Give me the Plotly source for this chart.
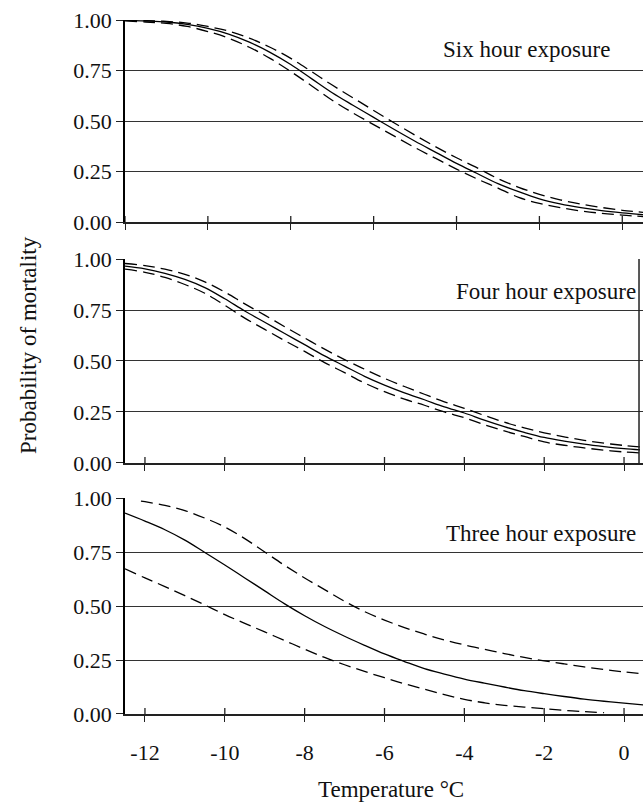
import plotly.graph_objects as go

# ---------------- data ----------------
temp_six = [-12, -11.5, -11, -10.5, -10, -9.5, -9, -8.5, -8, -7.5, -7, -6.5, -6,
            -5.5, -5, -4.5, -4, -3.5, -3, -2.5, -2, -1.5, -1, -0.5, 0, 0.5]
six_fit = [0.998, 0.995, 0.99, 0.978, 0.958, 0.93, 0.89, 0.84, 0.78, 0.71, 0.64, 0.578, 0.518,
           0.458, 0.40, 0.345, 0.29, 0.24, 0.19, 0.15, 0.115, 0.09, 0.071, 0.056, 0.045, 0.036]
six_upper = [0.999, 0.997, 0.993, 0.985, 0.968, 0.945, 0.91, 0.865, 0.81, 0.745, 0.678, 0.615, 0.552,
             0.49, 0.43, 0.372, 0.318, 0.268, 0.215, 0.172, 0.137, 0.11, 0.089, 0.072, 0.058, 0.048]
six_lower = [0.996, 0.99, 0.983, 0.968, 0.943, 0.91, 0.865, 0.81, 0.745, 0.675, 0.603, 0.54, 0.482,
             0.425, 0.368, 0.315, 0.262, 0.213, 0.168, 0.122, 0.092, 0.071, 0.055, 0.043, 0.034, 0.027]

temp_four = [-12.5, -12, -11.5, -11, -10.5, -10, -9.5, -9, -8.5, -8, -7.5, -7, -6.5, -6,
             -5.5, -5, -4.5, -4, -3.5, -3, -2.5, -2, -1.5, -1, -0.5, 0, 0.4]
four_fit = [0.965, 0.952, 0.93, 0.9, 0.86, 0.805, 0.745, 0.69, 0.635, 0.58, 0.525, 0.475, 0.425, 0.382,
            0.344, 0.31, 0.275, 0.245, 0.21, 0.178, 0.15, 0.125, 0.107, 0.092, 0.08, 0.07, 0.064]
four_upper = [0.978, 0.968, 0.95, 0.925, 0.888, 0.838, 0.78, 0.725, 0.668, 0.613, 0.558, 0.507, 0.46, 0.415,
              0.375, 0.337, 0.3, 0.268, 0.233, 0.2, 0.172, 0.148, 0.128, 0.111, 0.097, 0.086, 0.079]
four_lower = [0.95, 0.935, 0.91, 0.875, 0.832, 0.773, 0.71, 0.655, 0.6, 0.547, 0.492, 0.443, 0.392, 0.35,
              0.313, 0.283, 0.25, 0.222, 0.188, 0.157, 0.13, 0.103, 0.087, 0.074, 0.063, 0.054, 0.049]

temp_three = [-12.5, -12, -11.5, -11, -10.5, -10, -9.5, -9, -8.5, -8, -7.5, -7, -6.5, -6,
              -5.5, -5, -4.5, -4, -3.5, -3, -2.5, -2, -1.5, -1, -0.5, 0, 0.5]
three_fit = [0.93, 0.893, 0.853, 0.805, 0.748, 0.69, 0.63, 0.57, 0.51, 0.455, 0.405, 0.36, 0.318, 0.278,
             0.243, 0.21, 0.185, 0.162, 0.143, 0.125, 0.108, 0.094, 0.081, 0.069, 0.059, 0.05, 0.042]
temp_three_upper = [-12.1, -12, -11.5, -11, -10.5, -10, -9.5, -9, -8.5, -8, -7.5, -7, -6.5, -6,
                    -5.5, -5, -4.5, -4, -3.5, -3, -2.5, -2, -1.5, -1, -0.5, 0, 0.5]
three_upper = [0.986, 0.983, 0.966, 0.942, 0.907, 0.866, 0.812, 0.75, 0.688, 0.63, 0.576, 0.522, 0.474, 0.435,
               0.4, 0.37, 0.343, 0.32, 0.3, 0.28, 0.262, 0.246, 0.232, 0.218, 0.206, 0.195, 0.185]
temp_three_lower = [-12.5, -12, -11.5, -11, -10.5, -10, -9.5, -9, -8.5, -8, -7.5, -7, -6.5, -6,
                    -5.5, -5, -4.5, -4, -3.5, -3, -2.5, -2, -1.5, -1, -0.5]
three_lower = [0.672, 0.63, 0.59, 0.548, 0.505, 0.46, 0.42, 0.38, 0.34, 0.3, 0.262, 0.228, 0.197, 0.168,
               0.14, 0.115, 0.09, 0.068, 0.052, 0.04, 0.032, 0.025, 0.017, 0.011, 0.006]

x_ticks = [-12, -10, -8, -6, -4, -2, 0]
x_tick_text = ["-12", "-10", "-8", "-6", "-4", "-2", "0"]
y_ticks = [0, 0.25, 0.5, 0.75, 1.0]
y_tick_text = ["0.00", "0.25", "0.50", "0.75", "1.00"]
panel_labels = ["Six hour exposure", "Four hour exposure", "Three hour exposure"]
x_title = "Temperature °C"
y_title = "Probability of mortality"

# ---------------- figure ----------------
FONT = "Liberation Serif, Times New Roman, serif"
DASH = "12px,6px"
LW = 1.3

fig = go.Figure()

panels = [
    ("x", "y", temp_six, six_fit, temp_six, six_upper, temp_six, six_lower),
    ("x2", "y2", temp_four, four_fit, temp_four, four_upper, temp_four, four_lower),
    ("x3", "y3", temp_three, three_fit, temp_three_upper, three_upper, temp_three_lower, three_lower),
]
for xa, ya, tf, vf, tu, vu, tl, vl in panels:
    for tt, vv, dash in [(tu, vu, DASH), (tl, vl, DASH), (tf, vf, "solid")]:
        fig.add_trace(go.Scatter(x=tt, y=vv, xaxis=xa, yaxis=ya, mode="lines",
                                 line=dict(color="black", width=LW, dash=dash, shape="spline"),
                                 showlegend=False, hoverinfo="skip"))

domains = [[0.7089, 1.0], [0.3617, 0.6556], [0.0, 0.3112]]
xranges = [[-12, 0.5], [-12.5, 0.475], [-12.5, 0.475]]

common_x = dict(showgrid=False, zeroline=False, showline=True, linecolor="#222", linewidth=1.5,
                tickvals=x_ticks, ticktext=x_tick_text, ticks="outside", ticklen=6, tickwidth=1.3,
                tickcolor="#222", tickfont=dict(family=FONT, size=22, color="#111"))
common_y = dict(range=[0, 1], showgrid=True, gridcolor="#333", gridwidth=1, zeroline=False,
                showline=True, linecolor="black", linewidth=1.5,
                tickvals=y_ticks, ticktext=y_tick_text, ticks="outside", ticklen=7, tickwidth=1.3,
                tickcolor="#222", tickfont=dict(family=FONT, size=22, color="#111"))

for i in range(3):
    sx = "" if i == 0 else str(i + 1)
    fig.layout["xaxis" + sx] = dict(common_x, domain=[0, 1], range=xranges[i], anchor="y" + sx,
                                    showticklabels=(i == 2), ticklabelstandoff=12)
    fig.layout["yaxis" + sx] = dict(common_y, domain=domains[i], anchor="x" + sx)

shapes = []
for i in range(3):
    sx = "" if i == 0 else str(i + 1)
    for t in x_ticks:
        shapes.append(dict(type="line", xref="x" + sx, yref="y" + sx, x0=t, x1=t,
                           ysizemode="pixel", yanchor=0, y0=0, y1=6,
                           line=dict(color="#222", width=1.3)))
# right border on the middle panel
shapes.append(dict(type="line", xref="x2", yref="y2", x0=0.375, x1=0.375, y0=0, y1=1,
                   line=dict(color="#222", width=1.5)))
fig.update_layout(shapes=shapes)

ann = []
ann.append(dict(text=panel_labels[0], xref="paper", yref="y", x=(526 - 125) / 518, y=0.856,
                xanchor="center", yanchor="middle", showarrow=False,
                font=dict(family=FONT, size=23, color="#111")))
ann.append(dict(text=panel_labels[1], xref="paper", yref="y2", x=(638 - 125) / 518, y=0.84,
                xanchor="right", yanchor="middle", showarrow=False,
                font=dict(family=FONT, size=23, color="#111")))
ann.append(dict(text=panel_labels[2], xref="paper", yref="y3", x=(638 - 125) / 518, y=0.838,
                xanchor="right", yanchor="middle", showarrow=False,
                font=dict(family=FONT, size=23, color="#111")))
ann.append(dict(text=x_title, xref="paper", yref="paper", x=(391 - 125) / 518, y=(714 - 789) / 694,
                xanchor="center", yanchor="middle", showarrow=False,
                font=dict(family=FONT, size=23, color="#111")))
ann.append(dict(text=y_title, xref="paper", yref="paper", x=(28 - 125) / 518, y=(714 - 345) / 694,
                xanchor="center", yanchor="middle", textangle=-90, showarrow=False,
                font=dict(family=FONT, size=23, color="#111")))
fig.update_layout(annotations=ann)

fig.update_layout(width=643, height=808, margin=dict(l=125, r=0, t=20, b=94),
                  paper_bgcolor="white", plot_bgcolor="white", showlegend=False)

fig.write_html("out.html", config={"displayModeBar": False},
               post_script="document.body.style.margin='0';document.body.style.overflow='hidden';"
                           "document.documentElement.style.overflow='hidden';")
